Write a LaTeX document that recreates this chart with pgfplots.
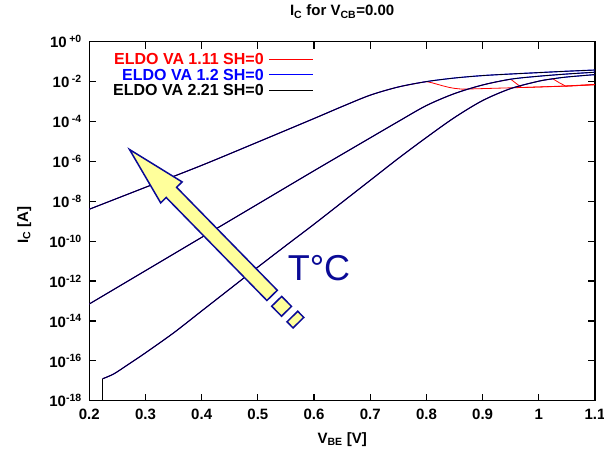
\documentclass[border=0pt]{standalone}
\usepackage{fontspec}
\setmainfont{Liberation Sans}
\usepackage{pgfplots}
\usepackage{pgfplotstable}
\pgfplotsset{compat=1.18}
\definecolor{navy}{RGB}{10,10,150}
\definecolor{arrowyellow}{RGB}{255,255,155}

% hottest temperature
\pgfplotstableread{
V I
0.2 3.98e-9
0.3 5.01e-8
0.4 6.31e-7
0.5 9.3e-6
0.6 1.41e-4
0.65 5.62e-4
0.7 2.09e-3
0.75 5.37e-3
0.8 1.0e-2
0.85 1.51e-2
0.9 2.0e-2
0.95 2.40e-2
1.0 2.82e-2
1.05 3.31e-2
1.1 3.80e-2
}\hot
\pgfplotstableread{
V I
0.8 1.0e-2
0.81 8.71e-3
0.82 7.24e-3
0.83 6.03e-3
0.84 5.13e-3
0.85 4.57e-3
0.864 4.17e-3
0.953 4.90e-3
1.048 5.89e-3
1.1 6.92e-3
}\hottail
% middle temperature
\pgfplotstableread{
V I
0.2 7.08e-14
0.3 3.31e-12
0.4 1.55e-10
0.5 7.24e-9
0.6 3.39e-7
0.7 1.51e-5
0.75 1.0e-4
0.8 6.31e-4
0.85 2.51e-3
0.9 6.76e-3
0.95 1.32e-2
1.0 1.86e-2
1.05 2.40e-2
1.1 2.95e-2
}\mid
\pgfplotstableread{
V I
0.95 1.32e-2
0.96 7.94e-3
0.97 5.01e-3
1.048 6.03e-3
1.1 7.24e-3
}\midtail
% coldest temperature
\pgfplotstableread{
V I
0.2237 1e-18
0.2237 1.26e-17
}\coldstart
\pgfplotstableread{
V I
0.2237 1.26e-17
0.244 2.24e-17
0.271 7.08e-17
0.3 2.51e-16
0.35 2.51e-15
0.4 3.16e-14
0.45 3.98e-13
0.5 5.01e-12
0.55 6.03e-11
0.6 7.08e-10
0.65 8.91e-9
0.7 1.12e-7
0.75 1.41e-6
0.8 1.58e-5
0.85 1.58e-4
0.9 1.12e-3
0.95 4.47e-3
1.0 1.05e-2
1.025 1.38e-2
1.05 1.70e-2
1.1 2.24e-2
}\cold
\pgfplotstableread{
V I
1.025 1.38e-2
1.036 8.91e-3
1.048 5.89e-3
1.1 7.08e-3
}\coldtail

\begin{document}
\begin{tikzpicture}
\useasboundingbox (-89.3pt,-51.3pt) rectangle (514.7pt,400.7pt);
\begin{axis}[
  at={(0pt,0pt)}, anchor=south west,
  scale only axis, width=505.7pt, height=359pt,
  xmin=0.2, xmax=1.1,
  ymode=log, ymin=1e-18, ymax=1,
  xtick={0.2,0.3,0.4,0.5,0.6,0.7,0.8,0.9,1.0,1.1},
  xticklabels={0.2,0.3,0.4,0.5,0.6,0.7,0.8,0.9,1,1.1},
  ytick={1e-18,1e-16,1e-14,1e-12,1e-10,1e-8,1e-6,1e-4,1e-2,1},
  yticklabels={10\textsuperscript{-18},10\textsuperscript{-16},10\textsuperscript{-14},10\textsuperscript{-12},10\textsuperscript{-10},10\,\textsuperscript{-8},10\,\textsuperscript{-6},10\,\textsuperscript{-4},10\,\textsuperscript{-2},10\,\textsuperscript{+0}},
  yminorticks=false, xminorticks=false,
  tick align=inside, major tick length=7pt,
  axis line style={line width=1.2pt},
  every tick/.style={black, line width=1.2pt},
  tick label style={font=\bfseries\fontsize{15}{17}\selectfont},
  xticklabel style={yshift=-5pt},
  yticklabel style={xshift=-4pt},
  title={I\textsubscript{C} for V\textsubscript{CB}=0.00},
  title style={at={(axis description cs:0.5,1)}, anchor=base, yshift=20pt, font=\bfseries\fontsize{15}{17}\selectfont},
  xlabel={V\textsubscript{BE} [V]},
  xlabel style={at={(axis description cs:0.5,0)}, anchor=base, yshift=-43pt, font=\bfseries\fontsize{15}{17}\selectfont},
  ylabel={I\textsubscript{C} [A]},
  ylabel style={at={(axis description cs:-0.121,0.489)}, anchor=base, font=\bfseries\fontsize{15}{17}\selectfont},
  legend style={at={(axis description cs:0.4443,0.974)}, anchor=north east, draw=none, fill=none,
     inner sep=0pt, row sep=0pt, font=\bfseries\fontsize{16}{18}\selectfont,
     nodes={inner xsep=5pt, inner ysep=2.05pt, text height=11.5pt, text depth=0pt}},
  legend cell align=right, legend plot pos=right,
  legend image code/.code={\draw[#1] (0pt,0pt) -- (44pt,0pt);},
]
% ELDO VA 1.11 (red): same as the others up to the peak, then drops
\addplot[red, line width=0.8pt, smooth, tension=0.5, restrict x to domain=0.2:0.8] table[x=V,y=I] {\hot};
\addlegendentry{\textcolor{red}{ELDO VA 1.11 SH=0}}
\addplot[red, line width=0.8pt, forget plot] table[x=V,y=I] {\hottail};
\addplot[red, line width=0.8pt, smooth, tension=0.5, restrict x to domain=0.2:0.95, forget plot] table[x=V,y=I] {\mid};
\addplot[red, line width=0.8pt, forget plot] table[x=V,y=I] {\midtail};
\addplot[red, line width=0.8pt, forget plot] table[x=V,y=I] {\coldstart};
\addplot[red, line width=0.8pt, smooth, tension=0.5, restrict x to domain=0.2:1.025, forget plot] table[x=V,y=I] {\cold};
\addplot[red, line width=0.8pt, forget plot] table[x=V,y=I] {\coldtail};
% ELDO VA 1.2 (blue)
\addplot[blue, line width=1.1pt, smooth, tension=0.5] table[x=V,y=I] {\hot};
\addlegendentry{\textcolor{blue}{ELDO VA 1.2 SH=0}}
\addplot[blue, line width=1.1pt, smooth, tension=0.5, forget plot] table[x=V,y=I] {\mid};
\addplot[blue, line width=1.1pt, forget plot] table[x=V,y=I] {\coldstart};
\addplot[blue, line width=1.1pt, smooth, tension=0.5, forget plot] table[x=V,y=I] {\cold};
% ELDO VA 2.21 (black)
\addplot[black, line width=0.7pt, smooth, tension=0.5] table[x=V,y=I] {\hot};
\addlegendentry{ELDO VA 2.21 SH=0}
\addplot[black, line width=0.7pt, smooth, tension=0.5, forget plot] table[x=V,y=I] {\mid};
\addplot[black, line width=0.7pt, forget plot] table[x=V,y=I] {\coldstart};
\addplot[black, line width=0.7pt, smooth, tension=0.5, forget plot] table[x=V,y=I] {\cold};
\end{axis}
% temperature arrow annotation
\draw[navy, line width=1.5pt, fill=arrowyellow, line join=miter]
  (40.2pt,251.2pt) -- (92.8pt,218.8pt) -- (87.3pt,213.4pt) -- (188.0pt,110.4pt)
  -- (177.6pt,100.2pt) -- (76.9pt,203.2pt) -- (71.4pt,197.8pt) -- cycle;
\node[draw=navy, line width=1.5pt, fill=arrowyellow, minimum width=14pt, minimum height=14pt, inner sep=0pt, rotate=-45.6] at (192.3pt,94.4pt) {};
\node[draw=navy, line width=1.5pt, fill=arrowyellow, minimum width=8.6pt, minimum height=15pt, inner sep=0pt, rotate=-45.6] at (206.1pt,81.1pt) {};
\node[text=navy, font=\fontsize{36}{40}\selectfont, anchor=center] at (229.7pt,132.2pt) {T°C};
\end{tikzpicture}
\end{document}
